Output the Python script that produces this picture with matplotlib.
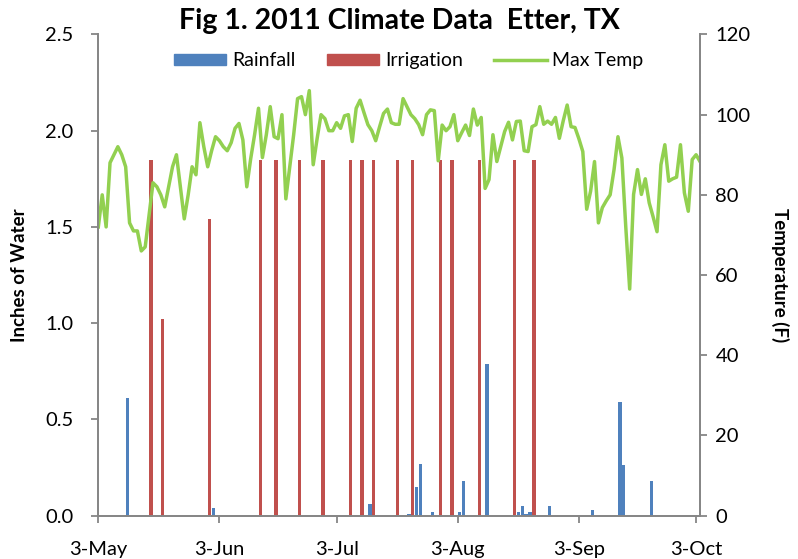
import numpy as np
import matplotlib
matplotlib.use('Agg')
import matplotlib.pyplot as plt
from matplotlib.patches import Patch
from matplotlib.lines import Line2D

plt.rcParams['font.family'] = ['Lato', 'DejaVu Sans']

# days counted from 3-May-2011
tick_days = [0, 31, 61, 92, 123, 153]
tick_labels = ['3-May', '3-Jun', '3-Jul', '3-Aug', '3-Sep', '3-Oct']

# daily max temperature (F), 3-May onward
max_temp = [
    72, 80, 72, 88, 90, 92, 90, 87, 73, 71,
    71, 66, 67, 75, 83, 82, 80, 77, 82, 87,
    90, 82, 74, 80, 87, 85, 98, 92, 87, 91,
    94.5, 93.5, 92, 91, 93, 96.6, 97.8, 93.7, 82, 89,
    95, 101.6, 89.3, 95, 102, 94.5, 94, 100, 79, 87,
    95, 104, 104.5, 100, 106, 87.5, 94, 100, 99, 96,
    96, 98, 96.6, 99.7, 100, 93.3, 101.6, 103.6, 100.5, 97.5,
    96, 93.5, 97, 100.3, 101.4, 98, 97.6, 97.6, 104, 102,
    100, 99, 97.5, 95, 100, 101.2, 101, 88.5, 97.4, 96,
    97, 100, 93.5, 95.5, 97.4, 94.8, 101.4, 97.4, 99.3, 81.6,
    83.8, 95, 88.3, 92, 95.8, 98.1, 93.7, 98.3, 98.4, 91,
    90.8, 97, 97.5, 102, 97.6, 98.4, 97.6, 99.3, 94.1, 98.5,
    102.4, 97, 96.8, 94, 90.8, 76.4, 80.9, 88.3, 73, 76.8,
    78.5, 80, 86.3, 94.5, 89.2, 72, 56.5, 80.1, 86.3, 80.1,
    84, 78, 74.5, 70.8, 87.5, 92.5, 83.4, 84, 84.4, 92.5,
    80.5, 75.9, 88.8, 90, 88.3,
]

rain_days = [7, 29, 69, 79, 81, 82, 85, 92, 93, 99, 107, 108, 109, 110, 115, 126, 133, 134, 141]
rain_in = [0.61, 0.04, 0.06, 0.01, 0.15, 0.27, 0.02, 0.02, 0.18, 0.79, 0.02, 0.05, 0.01, 0.02, 0.05, 0.03, 0.59, 0.26, 0.18]

irr_days = [13, 16, 28, 41, 45, 51, 57, 64, 67, 70, 76, 80, 87, 90, 97, 106, 111]
irr_in = [1.85, 1.02, 1.54, 1.85, 1.85, 1.85, 1.85, 1.85, 1.85, 1.85, 1.85, 1.85, 1.85, 1.85, 1.85, 1.85, 1.85]

blue = '#4F81BD'
red = '#C0504D'
green = '#92D050'
grey = '#868686'

fig = plt.figure(figsize=(7.98, 5.59), dpi=100)
ax = fig.add_axes([0.1232, 0.0778, 0.7540, 0.8605])
ax2 = ax.twinx()

ax.bar(np.array(rain_days) + 0.5, rain_in, width=0.85, color=blue, zorder=2)
ax.bar(np.array(irr_days) + 0.5, irr_in, width=0.85, color=red, zorder=2)
ax2.plot(np.arange(len(max_temp)), max_temp, color=green, lw=2.5, solid_joinstyle='round')

ax.set_xlim(0, 154)
ax.set_ylim(0, 2.5)
ax2.set_ylim(0, 120)
ax.set_yticks(np.arange(0, 2.51, 0.5))
ax.set_yticklabels([f'{v:.1f}' for v in np.arange(0, 2.51, 0.5)])
ax2.set_yticks(range(0, 121, 20))
ax.set_xticks(tick_days)
ax.set_xticklabels(tick_labels)

for a in (ax, ax2):
    for s in a.spines.values():
        s.set_color(grey)
        s.set_linewidth(1.3)
    a.spines['top'].set_visible(False)
    a.tick_params(colors=grey, labelcolor='black', labelsize=14.5, width=1.3, length=5, pad=6)
ax.tick_params(axis='y', pad=13)
ax.tick_params(axis='x', pad=13)

ax.set_ylabel('Inches of Water', fontsize=13.5, fontweight='bold', labelpad=12)
ax2.set_ylabel('Temperature (F)', fontsize=13.5, fontweight='bold', rotation=270, labelpad=28)
fig.text(0.5, 0.962, 'Fig 1. 2011 Climate Data  Etter, TX', ha='center', va='center',
         fontsize=20.5, fontweight='bold')

handles = [Patch(color=blue), Patch(color=red), Line2D([], [], color=green, lw=2.5)]
ax.legend(handles, ['Rainfall', 'Irrigation', 'Max Temp'], loc='center',
          bbox_to_anchor=(0.516, 0.945), ncol=3, frameon=False, fontsize=14,
          handlelength=2.7, handleheight=0.5, columnspacing=1.6, handletextpad=0.3)

fig.savefig('out.png', dpi=100)
